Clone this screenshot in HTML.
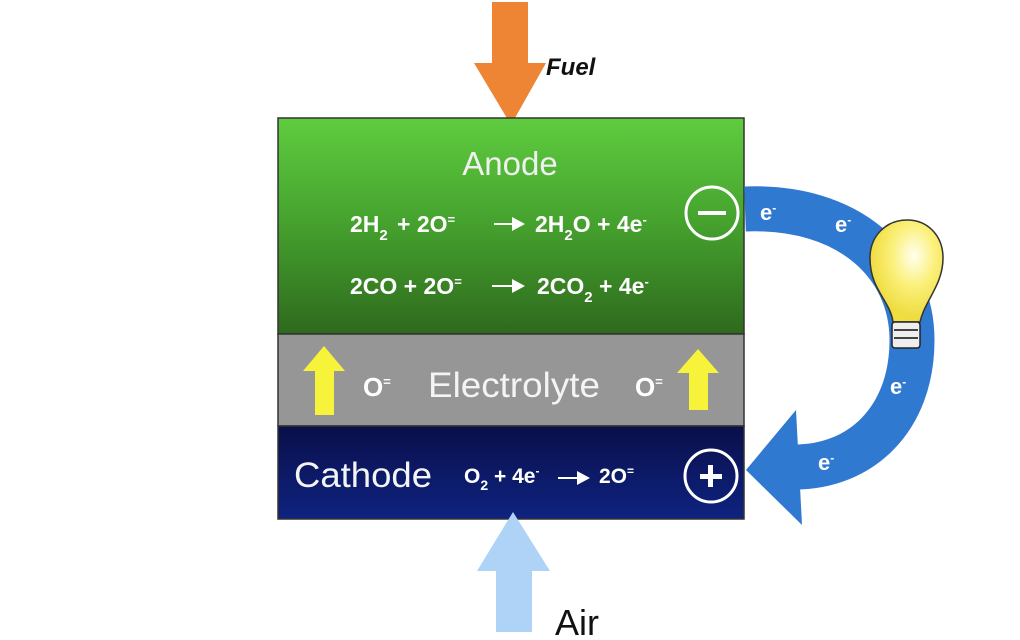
<!DOCTYPE html>
<html><head><meta charset="utf-8"><style>
html,body{margin:0;padding:0;background:#fff;width:1020px;height:640px;overflow:hidden}
svg text{font-family:"Liberation Sans",sans-serif}
</style></head><body>
<svg width="1020" height="640" viewBox="0 0 1020 640" xmlns="http://www.w3.org/2000/svg">
<defs>
<linearGradient id="g" x1="0" y1="0" x2="0" y2="1">
<stop offset="0" stop-color="#5fcc3f"/><stop offset="0.45" stop-color="#47a52f"/><stop offset="1" stop-color="#2e6a1d"/></linearGradient>
<linearGradient id="c" x1="0" y1="0" x2="0" y2="1">
<stop offset="0" stop-color="#0a0f4a"/><stop offset="1" stop-color="#0e2380"/></linearGradient>
<radialGradient id="b" cx="0.6" cy="0.35" r="0.6">
<stop offset="0" stop-color="#fffff0"/><stop offset="0.5" stop-color="#fbf07a"/><stop offset="1" stop-color="#efdc40"/></radialGradient>
</defs>
<polygon points="492,2 528,2 528,63 546,63 511,125 474,63 492,63" fill="#ee8535"/>
<text x="546" y="75" font-size="24" font-weight="bold" font-style="italic" fill="#111">Fuel</text>
<rect x="278" y="118" width="466" height="216" fill="url(#g)" stroke="#333" stroke-width="1.5"/>
<rect x="278" y="334" width="466" height="92" fill="#969696" stroke="#333" stroke-width="1.5"/>
<rect x="278" y="426" width="466" height="93" fill="url(#c)" stroke="#333" stroke-width="1.5"/>
<text x="510" y="175" font-size="33" fill="#f0f0f0" text-anchor="middle">Anode</text>
<g font-size="23" font-weight="bold" fill="#fff">
<text x="350" y="232">2H<tspan font-size="15" dy="8">2</tspan></text>
<text x="397" y="232">+ 2O<tspan font-size="13" dy="-8">=</tspan></text>
<text x="535" y="232">2H<tspan font-size="15" dy="8">2</tspan><tspan dy="-8">O + 4e</tspan><tspan font-size="13" dy="-8">-</tspan></text>
<text x="350" y="294">2CO + 2O<tspan font-size="13" dy="-8">=</tspan></text>
<text x="537" y="294">2CO<tspan font-size="15" dy="8">2</tspan><tspan dy="-8"> + 4e</tspan><tspan font-size="13" dy="-8">-</tspan></text>
</g>
<g fill="#fff">
<rect x="494" y="223" width="20" height="2"/><polygon points="512,217 525,224 512,231"/>
<rect x="492" y="285" width="22" height="2"/><polygon points="512,279 525,286 512,293"/>
<rect x="558" y="477" width="20" height="2"/><polygon points="577,471 590,478 577,485"/>
</g>
<circle cx="712" cy="213" r="26" fill="none" stroke="#fff" stroke-width="3"/>
<rect x="698" y="211" width="28" height="4" fill="#fff"/>
<polygon points="315,415 334,415 334,371 345,371 324,346 303,371 315,371" fill="#f7f23a"/>
<polygon points="689,410 708,410 708,373 719,373 698,349 677,373 689,373" fill="#f7f23a"/>
<text x="363" y="396" font-size="26" font-weight="bold" fill="#fff">O<tspan font-size="13" dy="-10">=</tspan></text>
<text x="428" y="397" font-size="35" fill="#f4f4f4" textLength="172" lengthAdjust="spacingAndGlyphs">Electrolyte</text>
<text x="635" y="396" font-size="26" font-weight="bold" fill="#fff">O<tspan font-size="13" dy="-10">=</tspan></text>
<text x="294" y="487" font-size="35" fill="#f4f4f4" textLength="138" lengthAdjust="spacingAndGlyphs">Cathode</text>
<text x="464" y="483" font-size="21" font-weight="bold" fill="#fff">O<tspan font-size="14" dy="7">2</tspan><tspan dy="-7"> + 4e</tspan><tspan font-size="12" dy="-8">-</tspan></text>
<text x="599" y="483" font-size="21" font-weight="bold" fill="#fff">2O<tspan font-size="12" dy="-8">=</tspan></text>
<circle cx="711" cy="476" r="26" fill="none" stroke="#fff" stroke-width="3"/>
<rect x="700" y="474" width="22" height="5" fill="#fff"/>
<rect x="708" y="465" width="5" height="22" fill="#fff"/>
<polygon points="513,512 550,571 532,571 532,632 496,632 496,571 477,571" fill="#aed3f7"/>
<text x="555" y="635" font-size="36" fill="#111">Air</text>
<path d="M745,209 C850,205 912,265 912,340 C912,420 860,467 795,467" fill="none" stroke="#3079d0" stroke-width="45"/>
<polygon points="746,470 796,410 802,525" fill="#3079d0"/>
<g font-size="22" font-weight="bold" fill="#fff">
<text x="760" y="220">e<tspan font-size="12" dy="-8">-</tspan></text>
<text x="835" y="232">e<tspan font-size="12" dy="-8">-</tspan></text>
<text x="890" y="394">e<tspan font-size="12" dy="-8">-</tspan></text>
<text x="818" y="470">e<tspan font-size="12" dy="-8">-</tspan></text>
</g>
<path d="M893,322 C890,300 870,290 870,258 C870,235 887,220 907,220 C928,220 943,236 943,258 C943,285 925,300 920,322 Z" fill="url(#b)" stroke="#333" stroke-width="1.5"/>
<rect x="892" y="322" width="28" height="26" rx="3" fill="#eee" stroke="#222" stroke-width="1.5"/>
<line x1="894" y1="330" x2="918" y2="330" stroke="#444" stroke-width="2"/>
<line x1="894" y1="338" x2="918" y2="338" stroke="#444" stroke-width="2"/>
</svg>
</body></html>
